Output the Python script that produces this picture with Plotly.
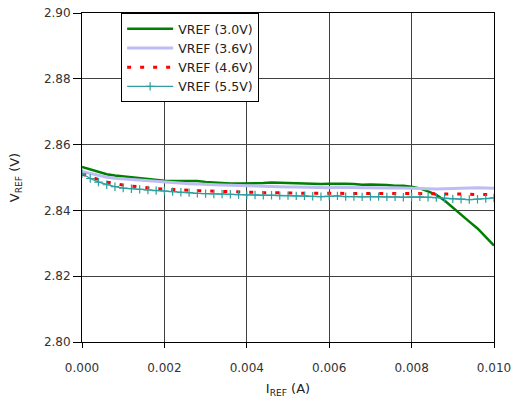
import plotly.graph_objects as go

x_current = [i * 0.0002 for i in range(51)]

vref_30 = [2.8532, 2.8525, 2.8518, 2.8510, 2.8506, 2.8503, 2.8500, 2.8497, 2.8496, 2.8493,
           2.8490, 2.8489, 2.8489, 2.8490, 2.8489, 2.8486, 2.8484, 2.8483, 2.8482, 2.8482,
           2.8482, 2.8482, 2.8483, 2.8485, 2.8484, 2.8482, 2.8482, 2.8482, 2.8481, 2.8480,
           2.8481, 2.8482, 2.8481, 2.8480, 2.8478, 2.8479, 2.8479, 2.8477, 2.8475, 2.8475,
           2.8472, 2.8467, 2.8458, 2.8447, 2.8430, 2.8408, 2.8387, 2.8366, 2.8345, 2.8320,
           2.8293]
vref_36 = [2.8518, 2.8512, 2.8506, 2.8501, 2.8498, 2.8496, 2.8494, 2.8491, 2.8489, 2.8488,
           2.8487, 2.8485, 2.8483, 2.8481, 2.8480, 2.8478, 2.8478, 2.8477, 2.8476, 2.8476,
           2.8475, 2.8474, 2.8473, 2.8473, 2.8472, 2.8471, 2.8471, 2.8470, 2.8470, 2.8469,
           2.8469, 2.8470, 2.8469, 2.8468, 2.8469, 2.8469, 2.8468, 2.8468, 2.8469, 2.8468,
           2.8467, 2.8466, 2.8465, 2.8465, 2.8466, 2.8467, 2.8468, 2.8469, 2.8469, 2.8468,
           2.8467]
vref_46 = [2.8510, 2.8503, 2.8494, 2.8486, 2.8481, 2.8477, 2.8474, 2.8471, 2.8469, 2.8466,
           2.8465, 2.8463, 2.8462, 2.8461, 2.8460, 2.8459, 2.8458, 2.8457, 2.8456, 2.8456,
           2.8455, 2.8455, 2.8454, 2.8454, 2.8453, 2.8453, 2.8452, 2.8452, 2.8452, 2.8451,
           2.8452, 2.8452, 2.8451, 2.8452, 2.8451, 2.8451, 2.8452, 2.8451, 2.8451, 2.8452,
           2.8451, 2.8451, 2.8450, 2.8451, 2.8450, 2.8450, 2.8449, 2.8450, 2.8449, 2.8448,
           2.8448]
vref_55 = [2.8512, 2.8497, 2.8486, 2.8478, 2.8472, 2.8468, 2.8466, 2.8464, 2.8462, 2.8460,
           2.8459, 2.8457, 2.8455, 2.8454, 2.8452, 2.8451, 2.8450, 2.8450, 2.8449, 2.8448,
           2.8447, 2.8447, 2.8446, 2.8446, 2.8445, 2.8445, 2.8444, 2.8444, 2.8443, 2.8442,
           2.8443, 2.8444, 2.8442, 2.8442, 2.8441, 2.8442, 2.8442, 2.8441, 2.8441, 2.8440,
           2.8441, 2.8441, 2.8440, 2.8439, 2.8437, 2.8435, 2.8434, 2.8433, 2.8434, 2.8436,
           2.8438]

series_names = ["VREF (3.0V)", "VREF (3.6V)", "VREF (4.6V)", "VREF (5.5V)"]
x_ticks = [0.000, 0.002, 0.004, 0.006, 0.008, 0.010]
y_ticks = [2.80, 2.82, 2.84, 2.86, 2.88, 2.90]

fig = go.Figure()
fig.add_trace(go.Scatter(x=x_current, y=vref_30, name=series_names[0], mode="lines",
                         line=dict(color="#008000", width=2.5)))
fig.add_trace(go.Scatter(x=x_current, y=vref_36, name=series_names[1], mode="lines",
                         line=dict(color="#BDBDF5", width=3)))
fig.add_trace(go.Scatter(x=x_current, y=vref_46, name=series_names[2], mode="lines",
                         line=dict(color="#FF0000", width=3, dash="4px,9px")))
fig.add_trace(go.Scatter(x=x_current, y=vref_55, name=series_names[3], mode="lines+markers",
                         line=dict(color="#2E9E9E", width=1.3),
                         marker=dict(symbol="cross-thin", size=6,
                                     line=dict(color="#2E9E9E", width=1.2))))

axis_common = dict(showline=True, linecolor="#000000", linewidth=1, mirror=True,
                   showgrid=True, gridcolor="#404040", gridwidth=1,
                   ticks="outside", tickcolor="#000000", zeroline=False,
                   automargin=False,
                   tickfont=dict(size=12, color="#333333"))

fig.update_layout(
    width=524, height=402,
    margin=dict(l=82, r=30, t=13, b=60),
    paper_bgcolor="white", plot_bgcolor="white",
    font=dict(family="DejaVu Sans", size=12, color="#222222"),
    xaxis=dict(range=[0, 0.010], tickvals=x_ticks, tickformat=".3f", ticklen=5,
               ticklabelstandoff=10,
               title=dict(text="I<sub>REF</sub> (A)", font=dict(size=13), standoff=9),
               **axis_common),
    yaxis=dict(range=[2.80, 2.90], tickvals=y_ticks, tickformat=".2f", ticklen=8,
               title=dict(text="V<sub>REF</sub> (V)", font=dict(size=13), standoff=21),
               **axis_common),
    legend=dict(x=0.095, y=1.0, xanchor="left", yanchor="top",
                bgcolor="white", bordercolor="#000000", borderwidth=1,
                font=dict(size=12.5, color="#222222"), tracegroupgap=0,
                itemwidth=46),
    showlegend=True,
)

# remove the page's default body margin so the figure sits at the window origin
fig.write_html("out.html", config={"displayModeBar": False},
               post_script="document.body.style.margin='0';")
